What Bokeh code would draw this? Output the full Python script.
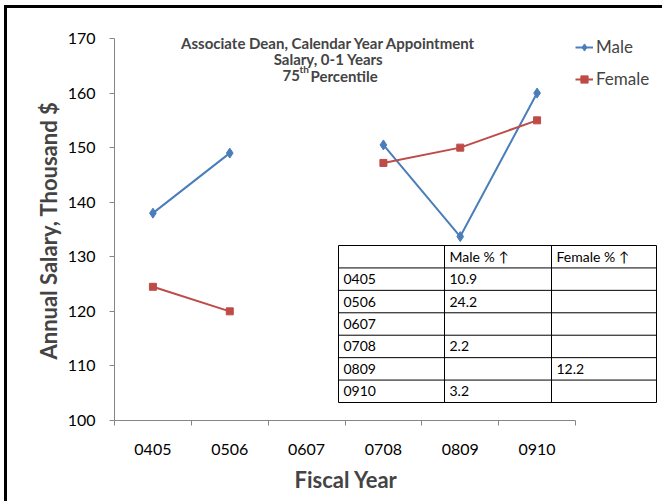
import numpy as np
from bokeh.plotting import figure
from bokeh.models import (Range1d, FixedTicker, Label, Legend, LegendItem,
                          ColumnDataSource, Title)
from bokeh.embed import file_html
from bokeh.resources import INLINE
from bokeh.core.properties import value

# ---------------- data ----------------
years = ["0405", "0506", "0607", "0708", "0809", "0910"]
male = [138.0, 149.0, np.nan, 150.5, 133.7, 160.0]
female = [124.5, 120.0, np.nan, 147.2, 150.0, 155.0]
male_pct = ["10.9", "24.2", "", "2.2", "", "3.2"]
female_pct = ["", "", "", "", "12.2", ""]
table_header = ["", "Male % \u2191", "Female % \u2191"]
y_ticks = [100, 110, 120, 130, 140, 150, 160, 170]
title_lines = ["Associate Dean, Calendar Year Appointment", "Salary, 0-1 Years"]
title_pct = ["75", "th", " Percentile"]
x_title = "Fiscal Year"
y_title = "Annual Salary, Thousand $"

# ---------------- layout (reference pixel geometry) ----------------
FONT = "Lato"
BLUE = "#4A7EBB"
RED = "#BE4B48"
AXIS_C = "#868686"

ML, MT = 4, 5                # outer offset of the chart border
BRD = 3                      # css border width (left / top)
OX, OY = ML + BRD, MT + BRD  # canvas origin on the page
W, H = 665 - OX, 504 - OY
FRAME_L, FRAME_R, FRAME_T, FRAME_B = 114, 662, 16, 420
AX_R = 575                   # right end of the category axis
Y_TOP_PX = 38                # pixel of top y tick
n = len(years)
PX_X = (AX_R - FRAME_L) / n
PX_Y = (FRAME_B - Y_TOP_PX) / (y_ticks[-1] - y_ticks[0])
X0 = -0.5
Y0 = y_ticks[0]


def dx(px):
    return X0 + (px - FRAME_L) / PX_X


def dy(py):
    return Y0 + (FRAME_B - py) / PX_Y


p = figure(
    width=W, height=H,
    x_range=Range1d(dx(FRAME_L), dx(FRAME_R)),
    y_range=Range1d(dy(FRAME_B), dy(FRAME_T)),
    output_backend="svg", toolbar_location=None,
    min_border=0,
    min_border_left=FRAME_L - OX, min_border_right=W - (FRAME_R - OX),
    min_border_top=FRAME_T - OY, min_border_bottom=H - (FRAME_B - OY),
    background_fill_color="white", border_fill_color="white",
    styles={"margin-left": f"{ML}px", "margin-top": f"{MT}px",
            "border-left": f"{BRD}px solid #000", "border-top": f"{BRD}px solid #000"},
)
p.outline_line_color = None
p.grid.visible = False

xs = list(range(n))

# ---------------- axes ----------------
xa = p.xaxis[0]
xa.ticker = FixedTicker(ticks=xs, minor_ticks=[i - 0.5 for i in range(n + 1)])
xa.major_label_overrides = {i: y for i, y in enumerate(years)}
xa.bounds = (-0.5, n - 0.5)
xa.major_tick_line_color = None
xa.minor_tick_line_color = AXIS_C
xa.minor_tick_out = 5
xa.minor_tick_in = 0
xa.axis_line_color = AXIS_C
xa.major_label_text_font = FONT
xa.major_label_text_font_size = "16px"
xa.major_label_text_color = "#000000"
xa.major_label_standoff = 17

ya = p.yaxis[0]
ya.ticker = FixedTicker(ticks=y_ticks)
ya.bounds = (y_ticks[0], y_ticks[-1])
ya.major_tick_line_color = AXIS_C
ya.major_tick_out = 5
ya.major_tick_in = 0
ya.minor_tick_line_color = None
ya.axis_line_color = AXIS_C
ya.major_label_text_font = FONT
ya.major_label_text_font_size = "16px"
ya.major_label_text_color = "#000000"
ya.major_label_standoff = 14

# axis titles, placed along the axis extent (not along the wider frame)
p.add_layout(Title(text=x_title, align="left", offset=294 - FRAME_L,
                   text_font=FONT, text_font_style="bold", text_font_size="22px",
                   standoff=12), "below")
p.add_layout(Title(text=y_title, align="left", offset=FRAME_B - 359,
                   text_font=FONT, text_font_style="bold", text_font_size="22px",
                   standoff=5), "left")

# ---------------- series ----------------
src = ColumnDataSource(dict(x=xs, male=male, female=female))
ml = p.line("x", "male", source=src, line_color=BLUE, line_width=2)
ms = p.scatter("x", "male", source=src, marker="diamond", size=10,
               fill_color=BLUE, line_color=BLUE)
fl = p.line("x", "female", source=src, line_color=RED, line_width=2)
fs = p.scatter("x", "female", source=src, marker="square", size=7,
               fill_color=RED, line_color=RED)

# ---------------- legend ----------------
leg = Legend(
    items=[LegendItem(label="Male", renderers=[ml, ms]),
           LegendItem(label="Female", renderers=[fl, fs])],
    location=(575 - FRAME_L, FRAME_B - 89),
    border_line_color=None, background_fill_alpha=0,
    padding=0, margin=0, spacing=11,
    glyph_width=18, glyph_height=20, label_height=20, label_standoff=3,
    label_text_font=FONT, label_text_font_size="17px",
)
p.add_layout(leg)

# ---------------- title ----------------
TITLE_CX = 328
for txt, base in zip(title_lines, [42, 58.5]):
    p.add_layout(Label(x=dx(TITLE_CX), y=dy(base), text=txt, text_align="center",
                       text_baseline="alphabetic", text_font=FONT,
                       text_font_style="bold", text_font_size="15px"))
for txt, left, base, size in zip(title_pct, [282, 299, 310], [75, 68.5, 75],
                                 ["15px", "10px", "15px"]):
    p.add_layout(Label(x=dx(left), y=dy(base), text=txt, text_align="left",
                       text_baseline="alphabetic", text_font=FONT,
                       text_font_style="bold", text_font_size=size))

# ---------------- table ----------------
col_edges = [338, 444, 551, 656]
TBL_T, TBL_B = 245, 402
n_rows = n + 1
row_h = (TBL_B - TBL_T) / n_rows

p.quad(left=dx(col_edges[0]), right=dx(col_edges[-1]), top=dy(TBL_T), bottom=dy(TBL_B),
       fill_color="white", line_color=None)

hx0, hx1, hy = [], [], []
for k in range(n_rows + 1):
    yy = dy(TBL_T + k * row_h)
    hx0.append(dx(col_edges[0])); hx1.append(dx(col_edges[-1])); hy.append(yy)
p.segment(x0=hx0, y0=hy, x1=hx1, y1=hy, line_color="black", line_width=1)
p.segment(x0=[dx(c) for c in col_edges], y0=[dy(TBL_T)] * len(col_edges),
          x1=[dx(c) for c in col_edges], y1=[dy(TBL_B)] * len(col_edges),
          line_color="black", line_width=1)

rows = [table_header] + [[yr, mp, fp] for yr, mp, fp in zip(years, male_pct, female_pct)]
tx, ty, tt = [], [], []
for r, row in enumerate(rows):
    for c, cell in enumerate(row):
        if cell:
            tx.append(dx(col_edges[c] + 5))
            ty.append(dy(TBL_T + (r + 0.5) * row_h))
            tt.append(cell)
p.text(x=tx, y=ty, text=tt, text_font=value(FONT), text_font_size="14px",
       text_align="left", text_baseline="middle", text_color="black")

open("out.html", "w").write(file_html(p, INLINE))
